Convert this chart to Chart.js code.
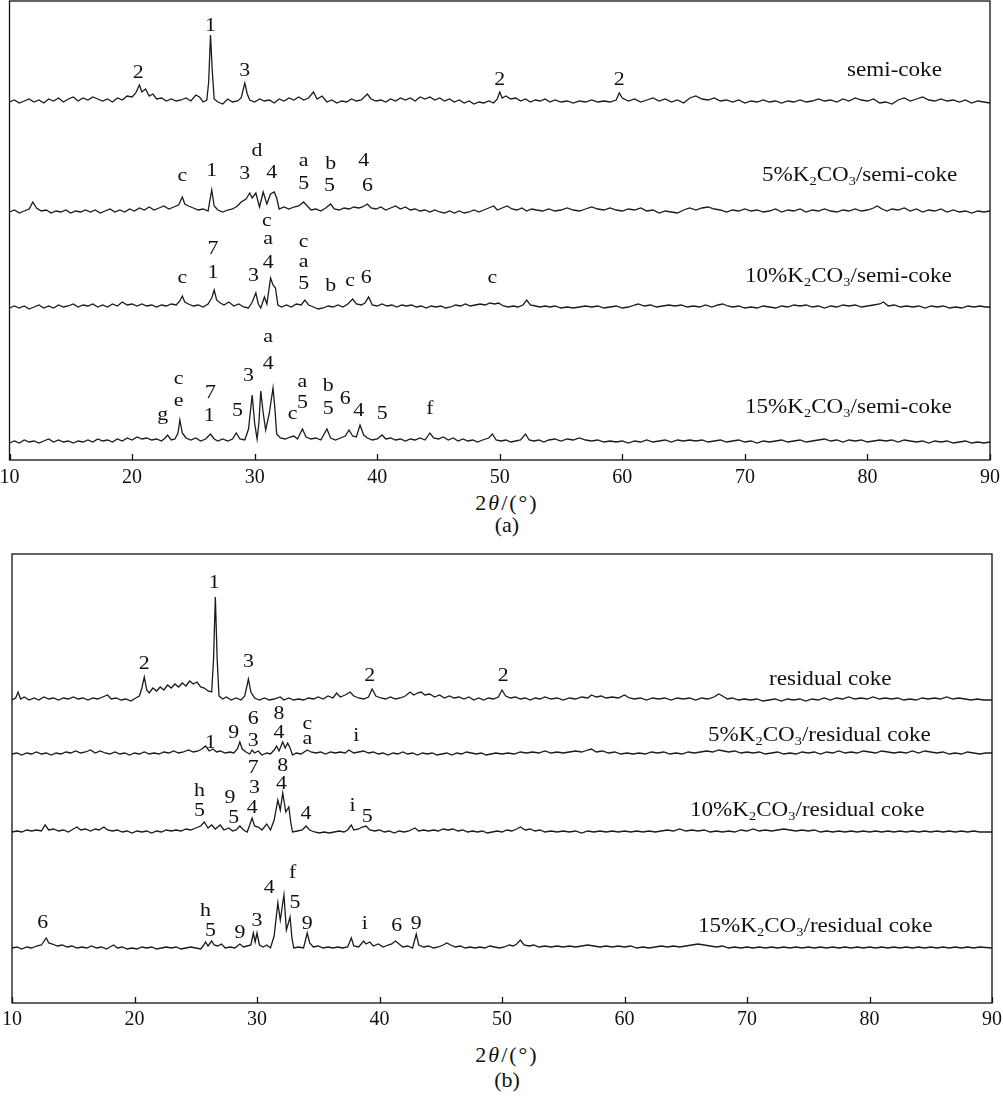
<!DOCTYPE html>
<html>
<head>
<meta charset="utf-8">
<script src="https://cdn.jsdelivr.net/npm/chart.js@4.4.1/dist/chart.umd.min.js"></script>
<style>
  body { margin: 0; background: #fff; width: 1003px; height: 1097px; position: relative; overflow: hidden;
         font-family: 'Liberation Serif', 'Times New Roman', serif; color: #111; }
  canvas { position: absolute; left: 0; }
  #chartA { top: 0; }
  #chartB { top: 553px; }
  .name { position: absolute; font-size: 21px; line-height: 21px; white-space: nowrap;
          transform: scaleX(1.1); transform-origin: 0 50%; }
  .name sub { font-size: 0.62em; vertical-align: -0.3em; line-height: 0; }
  .cap { position: absolute; left: 0; width: 1014px; text-align: center; font-size: 22px; line-height: 21px; }
  .cap.t { letter-spacing: 2px; }
</style>
</head>
<body>
<canvas id="chartA" width="1003" height="489"></canvas>
<canvas id="chartB" width="1003" height="479"></canvas>
<div class="cap t" style="top:492px">2<i>θ</i>/(°)</div>
<div class="cap" style="top:514px">(a)</div>
<div class="cap t" style="top:1044px">2<i>θ</i>/(°)</div>
<div class="cap" style="top:1069px">(b)</div>
<script>
const xTicks = [10, 20, 30, 40, 50, 60, 70, 80, 90];

// sample names, top to bottom
const namesA = ['semi-coke', '5%K<sub>2</sub>CO<sub>3</sub>/semi-coke', '10%K<sub>2</sub>CO<sub>3</sub>/semi-coke', '15%K<sub>2</sub>CO<sub>3</sub>/semi-coke'];
const namesB = ['residual coke', '5%K<sub>2</sub>CO<sub>3</sub>/residual coke', '10%K<sub>2</sub>CO<sub>3</sub>/residual coke', '15%K<sub>2</sub>CO<sub>3</sub>/residual coke'];

// vertical stacking offset of each pattern (intensity units)
const offsetsA = [358, 248, 152, 17];
const offsetsB = [303, 249, 171, 55];

// (a) patterns: [2theta, intensity above the pattern baseline]
const semiCoke = [[10,0],[10.4,2],[10.8,-1],[11.2,1],[11.6,3],[12,0],[12.4,2],[12.8,-1],[13.2,3],[13.6,1],[14,4],[14.4,0],[14.8,3],[15.2,5],[15.6,1],[16,4],[16.4,2],[16.8,5],[17.2,3],[17.6,1],[18,3],[18.4,0],[18.8,4],[19.2,2],[19.6,6],[20,5],[20.3,9],[20.6,17],[20.8,10],[21.1,13],[21.4,6],[21.7,8],[22,3],[22.4,4],[22.8,1],[23.2,3],[23.6,1],[24,2],[24.4,4],[24.8,1],[25.2,7],[25.5,5],[25.8,0],[26.1,2],[26.25,20],[26.4,67],[26.55,30],[26.7,3],[27,0],[27.4,-2],[27.8,3],[28.2,0],[28.6,1],[28.9,4],[29.2,19],[29.4,8],[29.6,2],[30,0],[30.4,3],[30.8,1],[31.2,2],[31.6,-1],[32,3],[32.4,1],[32.8,4],[33.2,2],[33.6,5],[34,2],[34.4,4],[34.8,10],[35.1,3],[35.5,6],[35.9,0],[36.3,2],[36.7,-1],[37.1,1],[37.5,0],[37.9,3],[38.3,1],[38.7,2],[39.2,8],[39.5,3],[39.9,1],[40.3,2],[40.7,0],[41.1,3],[41.5,1],[41.9,4],[42.3,2],[42.7,4],[43.1,1],[43.5,5],[43.9,3],[44.3,5],[44.7,2],[45.1,4],[45.5,1],[45.9,3],[46.3,0],[46.7,2],[47.1,-1],[47.5,1],[47.9,-2],[48.3,0],[48.7,-1],[49.1,1],[49.5,-1],[49.8,3],[50,10],[50.2,4],[50.5,6],[50.9,3],[51.3,4],[51.7,1],[52.1,3],[52.5,0],[52.9,2],[53.3,1],[53.7,3],[54.1,0],[54.5,2],[55,0],[55.5,1],[56,-1],[56.5,1],[57,0],[57.5,2],[58,0],[58.5,1],[59,0],[59.5,2],[59.75,9],[60,4],[60.5,1],[61,3],[61.5,0],[62,2],[62.5,4],[63,1],[63.5,3],[64,0],[64.5,2],[65,-1],[65.5,4],[66,6],[66.5,3],[67,2],[67.5,4],[68,1],[68.5,2],[69,0],[69.5,2],[70,-1],[70.5,1],[71,0],[71.5,2],[72,0],[72.5,1],[73,-1],[73.5,1],[74,0],[74.5,2],[75,0],[75.5,1],[76,3],[76.5,1],[77,2],[77.5,0],[78,3],[78.5,1],[79,4],[79.5,2],[80,1],[80.5,3],[81,-1],[81.5,0],[82,-2],[82.5,2],[83,4],[83.5,1],[84,3],[84.5,5],[85,2],[85.5,1],[86,3],[86.5,1],[87,2],[87.5,0],[88,2],[88.5,-1],[89,1],[89.5,0],[90,-1]];
const semiCoke5 = [[10,0],[10.4,2],[10.8,-1],[11.2,1],[11.6,3],[11.9,10],[12.2,4],[12.6,1],[13,2],[13.4,-1],[13.8,1],[14.2,0],[14.6,2],[15,-1],[15.4,1],[15.8,0],[16.2,2],[16.6,0],[17,2],[17.4,-1],[17.8,1],[18.2,3],[18.6,0],[19,2],[19.4,0],[19.8,3],[20.2,1],[20.6,4],[21,2],[21.4,5],[21.8,2],[22.2,4],[22.6,6],[23,3],[23.4,5],[23.8,7],[24.1,15],[24.3,8],[24.6,6],[25,4],[25.4,2],[25.8,3],[26.2,1],[26.5,22],[26.7,6],[27,2],[27.4,0],[27.8,2],[28.2,3],[28.6,6],[28.9,10],[29.3,13],[29.6,19],[29.8,14],[30.1,19],[30.4,5],[30.7,20],[31,8],[31.3,18],[31.6,20],[31.8,14],[32,3],[32.4,5],[32.8,3],[33.2,5],[33.6,6],[34,10],[34.3,6],[34.6,2],[35,3],[35.4,1],[35.8,4],[36.2,8],[36.5,3],[36.9,2],[37.3,4],[37.7,3],[38.1,5],[38.5,4],[38.8,5],[39.2,8],[39.5,4],[39.9,3],[40.3,5],[40.7,2],[41.1,4],[41.5,6],[41.9,3],[42.3,5],[42.7,2],[43.1,3],[43.5,1],[43.9,2],[44.3,0],[44.7,2],[45.1,0],[45.5,-1],[45.9,1],[46.3,-1],[46.7,1],[47.1,-1],[47.5,0],[47.9,2],[48.3,0],[48.7,2],[49.1,4],[49.5,6],[49.8,2],[50.2,4],[50.6,6],[51,3],[51.4,2],[51.8,4],[52.2,1],[52.6,3],[53,2],[53.5,1],[54,3],[54.5,1],[55,2],[55.5,4],[56,2],[56.5,1],[57,3],[57.5,5],[58,3],[58.5,2],[59,4],[59.5,2],[60,1],[60.5,3],[61,2],[61.5,4],[62,1],[62.5,2],[63,-1],[63.5,1],[64,0],[64.5,-1],[65,2],[65.5,4],[66,2],[66.5,4],[67,5],[67.5,3],[68,2],[68.5,0],[69,2],[69.5,1],[70,3],[70.5,1],[71,2],[71.5,0],[72,1],[72.5,3],[73,0],[73.5,2],[74,1],[74.5,3],[75,0],[75.5,2],[76,1],[76.5,3],[77,1],[77.5,0],[78,2],[78.5,1],[79,3],[79.5,1],[80,2],[80.5,4],[80.8,6],[81.2,3],[81.6,1],[82,3],[82.5,2],[83,4],[83.5,1],[84,3],[84.5,0],[85,2],[85.5,1],[86,3],[86.5,0],[87,2],[87.5,0],[88,1],[88.5,-1],[89,1],[89.5,0],[90,1]];
const semiCoke10 = [[10,0],[10.4,2],[10.8,0],[11.2,2],[11.6,-1],[12,1],[12.4,3],[12.8,0],[13.2,2],[13.6,0],[14,3],[14.4,1],[14.8,2],[15.2,4],[15.6,1],[16,3],[16.4,2],[16.8,4],[17.2,1],[17.6,3],[18,1],[18.4,4],[18.8,2],[19.2,6],[19.6,3],[20,4],[20.4,2],[20.8,4],[21.2,2],[21.6,3],[22,1],[22.4,3],[22.8,2],[23.2,4],[23.6,3],[23.9,7],[24.1,12],[24.3,6],[24.6,4],[25,2],[25.4,3],[25.8,1],[26.2,4],[26.5,10],[26.7,18],[26.9,8],[27.2,5],[27.5,3],[27.9,6],[28.3,2],[28.7,4],[29.1,1],[29.5,0],[29.8,6],[30.1,15],[30.3,4],[30.5,0],[30.8,11],[31,4],[31.3,30],[31.5,23],[31.7,20],[31.9,3],[32.2,1],[32.6,3],[33,1],[33.4,4],[33.8,3],[34.1,8],[34.4,3],[34.8,1],[35.2,-1],[35.6,0],[36,2],[36.4,1],[36.8,3],[37.2,1],[37.6,4],[38,9],[38.3,4],[38.7,3],[39,5],[39.3,11],[39.6,3],[40,2],[40.4,4],[40.8,2],[41.2,3],[41.6,1],[42,3],[42.4,2],[42.8,3],[43.2,1],[43.6,2],[44,0],[44.4,2],[44.8,1],[45.2,2],[45.6,0],[46,1],[46.4,3],[46.8,2],[47.2,4],[47.6,2],[48,3],[48.4,4],[48.8,3],[49.2,5],[49.6,4],[49.9,5],[50.3,2],[50.7,1],[51.1,2],[51.5,1],[51.9,3],[52.2,8],[52.5,3],[52.9,2],[53.3,1],[53.7,2],[54.1,1],[54.5,2],[55,0],[55.5,1],[56,0],[56.5,1],[57,2],[57.5,1],[58,2],[58.5,0],[59,1],[59.5,2],[60,0],[60.5,1],[61,3],[61.3,4],[61.8,2],[62.3,3],[62.8,1],[63.3,2],[63.8,3],[64.3,2],[64.8,3],[65.3,1],[65.8,2],[66.3,1],[66.8,3],[67.3,1],[67.8,3],[68.2,4],[68.6,2],[69,1],[69.5,2],[70,0],[70.5,1],[71,0],[71.5,2],[72,1],[72.5,0],[73,2],[73.5,1],[74,3],[74.5,2],[75,3],[75.5,1],[76,2],[76.5,0],[77,2],[77.5,1],[78,3],[78.5,2],[79,3],[79.5,1],[80,2],[80.5,3],[81,4],[81.3,6],[81.7,2],[82.2,3],[82.7,1],[83.2,2],[83.7,1],[84.2,2],[84.7,0],[85.2,2],[85.7,1],[86.2,2],[86.7,0],[87.2,1],[87.7,0],[88.2,2],[88.7,1],[89.2,2],[89.6,1],[90,1]];
const semiCoke15 = [[10,0],[10.4,2],[10.8,0],[11.2,3],[11.6,1],[12,2],[12.4,0],[12.8,2],[13.2,4],[13.6,1],[14,3],[14.4,1],[14.8,2],[15.2,0],[15.6,2],[16,1],[16.4,3],[16.8,1],[17.2,4],[17.6,2],[18,3],[18.4,1],[18.8,4],[19.2,2],[19.6,5],[20,3],[20.4,6],[20.8,4],[21.2,5],[21.6,3],[22,4],[22.4,2],[22.7,5],[22.9,8],[23.2,3],[23.5,4],[23.75,10],[23.9,23],[24.1,10],[24.4,5],[24.8,3],[25.2,5],[25.6,2],[26,4],[26.4,9],[26.7,4],[27,2],[27.4,4],[27.8,2],[28.2,4],[28.5,10],[28.8,4],[29.2,3],[29.5,14],[29.8,48],[30,20],[30.2,4],[30.35,20],[30.5,52],[30.7,30],[30.9,13],[31.2,30],[31.5,55],[31.65,35],[31.8,9],[32.1,5],[32.5,4],[32.9,6],[33.2,7],[33.5,4],[33.9,14],[34.2,6],[34.6,4],[35,5],[35.4,3],[35.9,14],[36.2,5],[36.6,3],[37,5],[37.4,7],[37.7,13],[38,7],[38.3,6],[38.6,18],[38.9,8],[39.2,5],[39.6,3],[40,4],[40.4,8],[40.7,4],[41.1,5],[41.5,3],[41.9,4],[42.3,2],[42.7,4],[43.1,3],[43.5,5],[43.9,3],[44.3,10],[44.6,5],[45,4],[45.4,6],[45.8,3],[46.2,5],[46.6,2],[47,4],[47.4,2],[47.8,3],[48.2,1],[48.6,3],[49.1,5],[49.4,9],[49.7,3],[50.1,2],[50.5,3],[50.9,1],[51.3,2],[51.7,3],[52.1,9],[52.4,3],[52.8,2],[53.2,3],[53.6,1],[54,3],[54.5,4],[55,2],[55.5,4],[56,3],[56.5,5],[57,3],[57.5,2],[58,3],[58.5,1],[59,2],[59.5,1],[60,2],[60.5,0],[61,2],[61.5,1],[62,3],[62.5,1],[63,2],[63.5,3],[64,1],[64.5,3],[65,2],[65.5,3],[66,2],[66.5,3],[67,1],[67.5,2],[68,3],[68.5,1],[69,2],[69.5,3],[70,1],[70.5,2],[71,0],[71.5,2],[72,1],[72.5,2],[73,3],[73.5,1],[74,2],[74.5,3],[75,1],[75.5,2],[76,3],[76.5,4],[77,2],[77.5,3],[78,1],[78.5,3],[79,2],[79.5,3],[80,1],[80.5,2],[81,3],[81.5,2],[82,3],[82.5,1],[83,3],[83.5,2],[84,1],[84.5,2],[85,0],[85.5,2],[86,1],[86.5,2],[87,0],[87.5,1],[88,2],[88.5,0],[89,1],[89.5,0],[90,1]];

// (b) patterns
const residual = [[10,0],[10.3,2],[10.5,8],[10.7,1],[11,3],[11.4,0],[11.8,2],[12.2,0],[12.6,3],[13,1],[13.4,2],[13.8,0],[14.2,2],[14.6,1],[15,3],[15.4,1],[15.8,2],[16.2,0],[16.6,2],[17,1],[17.4,3],[17.8,5],[18.1,1],[18.5,2],[18.9,0],[19.3,1],[19.7,-1],[20.1,2],[20.4,4],[20.6,12],[20.8,23],[21,10],[21.2,7],[21.5,12],[21.8,9],[22.1,13],[22.4,10],[22.7,15],[23,12],[23.3,16],[23.6,13],[23.9,17],[24.2,14],[24.5,19],[24.8,16],[25.1,18],[25.4,13],[25.7,12],[26,9],[26.3,8],[26.45,40],[26.6,103],[26.75,40],[26.9,4],[27.2,1],[27.5,3],[27.9,0],[28.3,2],[28.7,0],[29,4],[29.3,21],[29.5,8],[29.8,2],[30.2,0],[30.6,2],[31,0],[31.4,1],[31.9,3],[32.2,0],[32.6,2],[33,0],[33.4,1],[33.8,0],[34.2,2],[34.6,1],[35,3],[35.4,1],[35.8,4],[36.2,2],[36.5,7],[36.8,3],[37.2,5],[37.6,8],[37.9,4],[38.3,2],[38.7,1],[39.1,3],[39.4,11],[39.7,4],[40.1,2],[40.5,1],[40.9,3],[41.3,1],[41.7,2],[42.1,4],[42.5,8],[42.8,5],[43.1,7],[43.4,8],[43.7,5],[44.1,6],[44.5,3],[44.9,5],[45.3,2],[45.7,4],[46.1,2],[46.5,3],[46.9,1],[47.3,3],[47.7,0],[48.1,2],[48.5,0],[48.9,2],[49.3,1],[49.7,3],[50,10],[50.3,4],[50.7,2],[51.1,3],[51.5,1],[51.9,2],[52.3,0],[52.7,2],[53.1,1],[53.5,3],[54,1],[54.5,2],[55,0],[55.5,2],[56,1],[56.5,3],[57,2],[57.3,5],[57.7,3],[58.1,4],[58.5,2],[59,3],[59.5,2],[60,5],[60.4,2],[60.8,1],[61.3,2],[61.8,0],[62.3,2],[62.8,1],[63.3,2],[63.8,0],[64.3,2],[64.8,1],[65.3,2],[65.8,0],[66.3,2],[66.8,1],[67.3,3],[67.7,6],[68,4],[68.4,1],[68.8,2],[69.3,0],[69.8,1],[70.3,0],[70.8,1],[71.3,-1],[71.8,0],[72.3,1],[72.8,-1],[73.3,1],[73.8,0],[74.3,1],[74.8,-1],[75.3,1],[75.8,0],[76.3,2],[76.8,0],[77.3,2],[77.8,1],[78.3,3],[78.8,1],[79.3,2],[79.8,1],[80.3,3],[80.8,1],[81.3,2],[81.8,1],[82.3,2],[82.8,0],[83.3,1],[83.8,0],[84.3,2],[84.8,1],[85.3,2],[85.8,1],[86.3,3],[86.8,1],[87.3,2],[87.8,1],[88.3,0],[88.8,1],[89.3,0],[90,0]];
const residual5 = [[10,0],[10.4,1],[10.8,-1],[11.2,1],[11.6,0],[12,2],[12.4,0],[12.8,1],[13.2,-1],[13.6,1],[14,0],[14.4,2],[14.8,1],[15.2,3],[15.6,1],[16,2],[16.4,4],[16.8,1],[17.2,3],[17.6,1],[18,0],[18.4,2],[18.8,0],[19.2,1],[19.6,-1],[20,1],[20.4,0],[20.8,2],[21.2,0],[21.6,1],[22,0],[22.4,2],[22.8,1],[23.2,3],[23.6,1],[24,2],[24.4,4],[24.8,2],[25.2,3],[25.5,5],[25.8,8],[26.1,3],[26.4,5],[26.7,2],[27,3],[27.4,1],[27.8,2],[28.1,1],[28.4,5],[28.6,12],[28.8,5],[29.1,2],[29.4,0],[29.6,4],[29.8,1],[30.1,3],[30.4,-1],[30.8,1],[31.1,0],[31.4,4],[31.6,8],[31.8,3],[32.1,12],[32.3,6],[32.5,11],[32.7,6],[32.9,-1],[33.2,1],[33.6,0],[34.1,4],[34.4,2],[34.8,1],[35.2,2],[35.6,0],[36,2],[36.4,1],[36.8,2],[37.2,1],[37.5,4],[37.9,1],[38.3,2],[38.7,3],[39.1,1],[39.5,2],[39.9,0],[40.3,1],[40.7,-1],[41.1,1],[41.5,0],[41.9,2],[42.3,0],[42.7,1],[43.1,-1],[43.5,1],[43.9,0],[44.3,1],[44.7,-1],[45.1,0],[45.5,1],[45.9,-1],[46.3,1],[46.7,0],[47.1,2],[47.5,1],[47.9,0],[48.3,1],[48.7,-1],[49.1,0],[49.5,1],[50,0],[50.5,1],[51,0],[51.5,2],[52,1],[52.5,2],[53,1],[53.5,3],[54,1],[54.5,2],[55,1],[55.5,2],[56,3],[56.5,2],[57,4],[57.3,5],[57.7,2],[58.2,3],[58.7,1],[59.2,2],[59.7,0],[60.2,1],[60.7,0],[61.2,1],[61.7,0],[62.2,2],[62.7,1],[63.2,2],[63.7,0],[64.2,1],[64.7,0],[65.2,2],[65.7,1],[66.2,2],[66.7,3],[67.2,2],[67.7,4],[68.1,3],[68.5,2],[69,3],[69.5,1],[70,2],[70.5,1],[71,2],[71.5,0],[72,1],[72.5,2],[73,0],[73.5,1],[74,0],[74.5,2],[75,1],[75.5,2],[76,0],[76.5,2],[77,1],[77.5,3],[78,1],[78.5,2],[79,1],[79.5,3],[80,2],[80.5,1],[81,3],[81.5,2],[82,1],[82.5,2],[83,1],[83.5,3],[84,1],[84.5,3],[85,2],[85.5,1],[86,2],[86.5,0],[87,1],[87.5,0],[88,2],[88.5,1],[89,0],[89.5,1],[90,1]];
const residual10 = [[10,0],[10.4,1],[10.8,0],[11.2,2],[11.6,1],[12,2],[12.4,1],[12.7,7],[13,2],[13.4,3],[13.8,1],[14.2,2],[14.6,0],[15,3],[15.3,5],[15.6,2],[16,3],[16.4,1],[16.8,3],[17.1,2],[17.5,5],[17.8,2],[18.2,1],[18.6,2],[19,0],[19.4,1],[19.8,-1],[20.2,1],[20.6,0],[21,1],[21.4,-1],[21.8,1],[22.2,0],[22.6,2],[23,1],[23.4,2],[23.8,1],[24.2,3],[24.6,2],[25,4],[25.4,6],[25.7,10],[26,4],[26.3,7],[26.6,3],[27,7],[27.3,2],[27.7,4],[28,1],[28.3,2],[28.6,6],[28.9,2],[29.2,0],[29.6,14],[29.8,6],[30.1,5],[30.4,2],[30.8,8],[31.1,2],[31.4,12],[31.7,32],[31.9,22],[32.1,39],[32.35,20],[32.6,25],[32.75,10],[32.9,0],[33.3,1],[33.7,2],[34,6],[34.3,2],[34.7,0],[35.1,-1],[35.5,0],[35.9,-1],[36.3,0],[36.7,1],[37.1,0],[37.4,2],[37.7,7],[37.9,2],[38.3,3],[38.6,5],[38.9,6],[39.2,2],[39.6,1],[40,2],[40.4,0],[40.8,1],[41.2,-1],[41.6,1],[42,0],[42.4,1],[42.9,4],[43.2,1],[43.6,2],[44,1],[44.4,2],[44.8,1],[45.2,3],[45.6,2],[46,3],[46.4,1],[46.8,2],[47.2,0],[47.6,1],[48,0],[48.4,1],[48.8,-1],[49.2,0],[49.6,1],[50,0],[50.4,2],[50.8,1],[51.2,3],[51.5,5],[51.9,2],[52.3,3],[52.7,1],[53.1,2],[53.5,0],[54,1],[54.5,0],[55,1],[55.5,0],[56,1],[56.5,-1],[57,1],[57.5,0],[58,1],[58.5,0],[59,1],[59.5,0],[60,1],[60.5,0],[61,1],[61.5,0],[62,1],[62.5,0],[63,1],[63.5,2],[64,1],[64.5,3],[65,1],[65.5,2],[66,1],[66.5,2],[67,0],[67.5,1],[68,0],[68.5,1],[69,0],[69.5,2],[70,1],[70.5,3],[71,1],[71.5,2],[72,1],[72.5,2],[73,3],[73.5,2],[74,1],[74.5,2],[75,1],[75.5,2],[76,0],[76.5,1],[77,0],[77.5,1],[78,0],[78.5,1],[79,0],[79.5,1],[80,0],[80.5,1],[81,0],[81.5,1],[82,0],[82.5,1],[83,0],[83.5,1],[84,0],[84.5,1],[85,0],[85.5,1],[86,0],[86.5,1],[87,0],[87.5,1],[88,0],[88.5,1],[89,0],[90,0]];
const residual15 = [[10,0],[10.4,1],[10.8,-1],[11.2,1],[11.6,0],[12,2],[12.4,3],[12.8,10],[13,5],[13.3,4],[13.7,2],[14.1,3],[14.5,1],[14.9,2],[15.3,0],[15.7,1],[16.1,0],[16.5,2],[16.9,0],[17.3,1],[17.7,-1],[18,1],[18.3,3],[18.6,0],[19,1],[19.4,-1],[19.8,0],[20.2,-1],[20.6,1],[21,0],[21.4,1],[21.8,-1],[22.2,0],[22.6,1],[23,0],[23.4,1],[23.8,-1],[24.2,0],[24.6,1],[25,0],[25.4,-1],[25.6,2],[25.8,6],[26,2],[26.3,7],[26.5,3],[26.8,2],[27.1,4],[27.4,0],[27.8,1],[28.2,0],[28.6,4],[28.9,1],[29.2,2],[29.5,3],[29.7,15],[29.85,6],[30,15],[30.2,3],[30.5,1],[30.8,3],[31.1,0],[31.4,12],[31.7,45],[31.9,28],[32.2,53],[32.4,18],[32.7,31],[32.85,10],[33,0],[33.4,1],[33.8,0],[34.1,15],[34.3,5],[34.6,1],[35,2],[35.4,0],[35.8,1],[36.2,0],[36.6,1],[37,0],[37.4,1],[37.7,10],[37.9,2],[38.3,1],[38.7,7],[38.9,4],[39.2,6],[39.5,2],[39.9,4],[40.3,1],[40.7,3],[41,4],[41.3,7],[41.6,4],[41.9,1],[42.3,2],[42.7,0],[43,14],[43.2,3],[43.6,1],[44,2],[44.4,0],[44.8,1],[45.2,3],[45.5,5],[45.8,3],[46.2,1],[46.6,2],[47,0],[47.4,1],[47.8,0],[48.2,1],[48.6,0],[49,2],[49.4,1],[49.8,0],[50.2,1],[50.6,3],[50.9,2],[51.2,4],[51.5,8],[51.8,3],[52.2,2],[52.6,3],[53,1],[53.5,2],[54,1],[54.5,2],[55,1],[55.5,2],[56,1],[56.5,2],[57,3],[57.5,2],[58,1],[58.5,2],[59,1],[59.5,2],[60,1],[60.5,2],[61,0],[61.5,1],[62,0],[62.5,1],[63,2],[63.5,1],[64,2],[64.5,1],[65,2],[65.5,3],[66,4],[66.5,3],[67,2],[67.5,1],[68,2],[68.5,0],[69,1],[69.5,0],[70,1],[70.5,0],[71,1],[71.5,0],[72,1],[72.5,0],[73,1],[73.5,0],[74,1],[74.5,0],[75,1],[75.5,0],[76,1],[76.5,0],[77,1],[77.5,0],[78,1],[78.5,0],[79,1],[79.5,0],[80,1],[80.5,0],[81,1],[81.5,0],[82,1],[82.5,0],[83,1],[83.5,0],[84,1],[84.5,0],[85,1],[85.5,0],[86,1],[86.5,0],[87,1],[87.5,0],[88,1],[88.5,0],[89,1],[90,0]];

// phase marks: [2theta, intensity above the pattern baseline, mark]
const peaksSemi = [[20.5,30,'2'],[26.4,77,'1'],[29.2,32,'3'],[50.0,23,'2'],[59.75,23,'2']];
const peaksSemi5 = [[24.1,35,'c'],[26.5,42,'1'],[29.2,39,'3'],[30.2,62,'d'],[31.4,40,'4'],[34.0,50,'a'],[34.0,29,'5'],[36.2,49,'b'],[36.1,27,'5'],[38.9,52,'4'],[39.2,27,'6']];
const peaksSemi10 = [[24.1,29,'c'],[26.6,60,'7'],[26.6,36,'1'],[29.9,33,'3'],[31.0,86,'c'],[31.1,68,'a'],[31.1,46,'4'],[34.0,65,'c'],[34.0,45,'a'],[34.0,25,'5'],[36.2,23,'b'],[37.8,26,'c'],[39.1,31,'6'],[49.4,29,'c']];
const peaksSemi15 = [[22.5,25,'g'],[23.8,63,'c'],[23.8,41,'e'],[26.4,51,'7'],[26.3,28,'1'],[28.6,33,'5'],[29.5,68,'3'],[31.1,105,'a'],[31.1,80,'4'],[33.1,28,'c'],[33.9,60,'a'],[33.9,41,'5'],[36.0,58,'b'],[36.0,35,'5'],[37.4,45,'6'],[38.5,33,'4'],[40.4,30,'5'],[44.3,35,'f']];
const peaksRes = [[20.8,37,'2'],[26.5,118,'1'],[29.3,39,'3'],[39.2,25,'2'],[50.1,25,'2']];
const peaksRes5 = [[26.2,12,'1'],[28.1,22,'9'],[29.7,36,'6'],[29.7,14,'3'],[31.8,41,'8'],[31.8,22,'4'],[34.1,29,'c'],[34.1,14,'a'],[38.1,19,'i']];
const peaksRes10 = [[25.3,42,'h'],[25.3,22,'5'],[27.8,35,'9'],[28.1,15,'5'],[29.7,65,'7'],[29.8,45,'3'],[29.6,25,'4'],[32.1,67,'8'],[32.0,49,'4'],[34.0,19,'4'],[37.8,27,'i'],[39.0,16,'5']];
const peaksRes15 = [[12.5,26,'6'],[25.8,38,'h'],[26.2,18,'5'],[28.6,16,'9'],[30.0,28,'3'],[31.0,61,'4'],[32.9,76,'f'],[33.1,46,'5'],[34.1,25,'9'],[38.8,25,'i'],[41.4,23,'6'],[43.0,25,'9']];

// where the sample names sit (page px: left, top)
const nameSpots = [[847,59],[762,164],[745,265],[745,396],[769,668],[708,724],[690,799],[698,915]];

const FONT = "'Liberation Serif', 'Times New Roman', serif";

function drawMark(ctx, text, x, y, size) {
    // centre the glyph's visible body on y
    const lift = /^[acemnorsuvwxz]$/.test(text) ? 0.23 : (text === 'g' ? 0.12 : 0.34);
    ctx.save();
    ctx.font = size + 'px ' + FONT;
    ctx.textAlign = 'center';
    ctx.textBaseline = 'alphabetic';
    ctx.translate(x, y + lift * size);
    ctx.scale(1.15, 1);
    ctx.fillText(text, 0, 0);
    ctx.restore();
}

function makeChart(id, traces, offsets, peaks, yMax, padLeft, padRight, tickPad) {
    const frame = {
        id: 'frame',
        afterDraw(chart) {
            const { ctx, chartArea: a } = chart;
            const xs = chart.scales.x, ys = chart.scales.y;
            ctx.save();
            ctx.strokeStyle = '#111';
            ctx.lineWidth = 1.3;
            ctx.strokeRect(a.left, a.top, a.right - a.left, a.bottom - a.top);
            ctx.beginPath();
            xTicks.forEach(v => {
                const px = Math.round(xs.getPixelForValue(v)) + 0.5;
                ctx.moveTo(px, a.bottom);
                ctx.lineTo(px, a.bottom - 6);
            });
            ctx.stroke();
            ctx.fillStyle = '#111';
            peaks.forEach((set, i) => {
                set.forEach(([deg, h, t]) => {
                    drawMark(ctx, t, xs.getPixelForValue(deg), ys.getPixelForValue(offsets[i] + h), 19);
                });
            });
            ctx.restore();
        }
    };

    return new Chart(document.getElementById(id), {
        type: 'line',
        data: {
            datasets: traces.map((tr, i) => ({
                data: tr.map(([x, y]) => ({ x: x, y: y + offsets[i] })),
                borderColor: '#1b1b1b',
                borderWidth: 1.3,
                pointRadius: 0,
                tension: 0,
                fill: false
            }))
        },
        options: {
            responsive: false,
            animation: false,
            events: [],
            layout: { padding: { top: 1, left: padLeft, right: padRight, bottom: 0 } },
            plugins: { legend: { display: false }, tooltip: { enabled: false } },
            scales: {
                x: {
                    type: 'linear',
                    min: 10,
                    max: 90,
                    grid: { display: false, drawTicks: false },
                    border: { display: false },
                    afterBuildTicks: s => { s.ticks = xTicks.map(v => ({ value: v })); },
                    afterFit: s => {
                        s.height = 29;
                        // end labels may hang over the frame, as in the figure
                        s.paddingLeft = 0;
                        s.paddingRight = 0;
                    },
                    ticks: {
                        padding: tickPad,
                        autoSkip: false,
                        maxRotation: 0,
                        color: '#111',
                        font: { family: FONT, size: 20 }
                    }
                },
                y: { display: false, min: 0, max: yMax }
            }
        },
        plugins: [frame]
    });
}

makeChart('chartA', [semiCoke, semiCoke5, semiCoke10, semiCoke15], offsetsA,
    [peaksSemi, peaksSemi5, peaksSemi10, peaksSemi15], 459, 9.5, 13, 6);
makeChart('chartB', [residual, residual5, residual10, residual15], offsetsB,
    [peaksRes, peaksRes5, peaksRes10, peaksRes15], 449, 12, 11, 5);

namesA.concat(namesB).forEach((html, i) => {
    const d = document.createElement('div');
    d.className = 'name';
    d.innerHTML = html;
    d.style.left = nameSpots[i][0] + 'px';
    d.style.top = nameSpots[i][1] + 'px';
    document.body.appendChild(d);
});
</script>
</body>
</html>
